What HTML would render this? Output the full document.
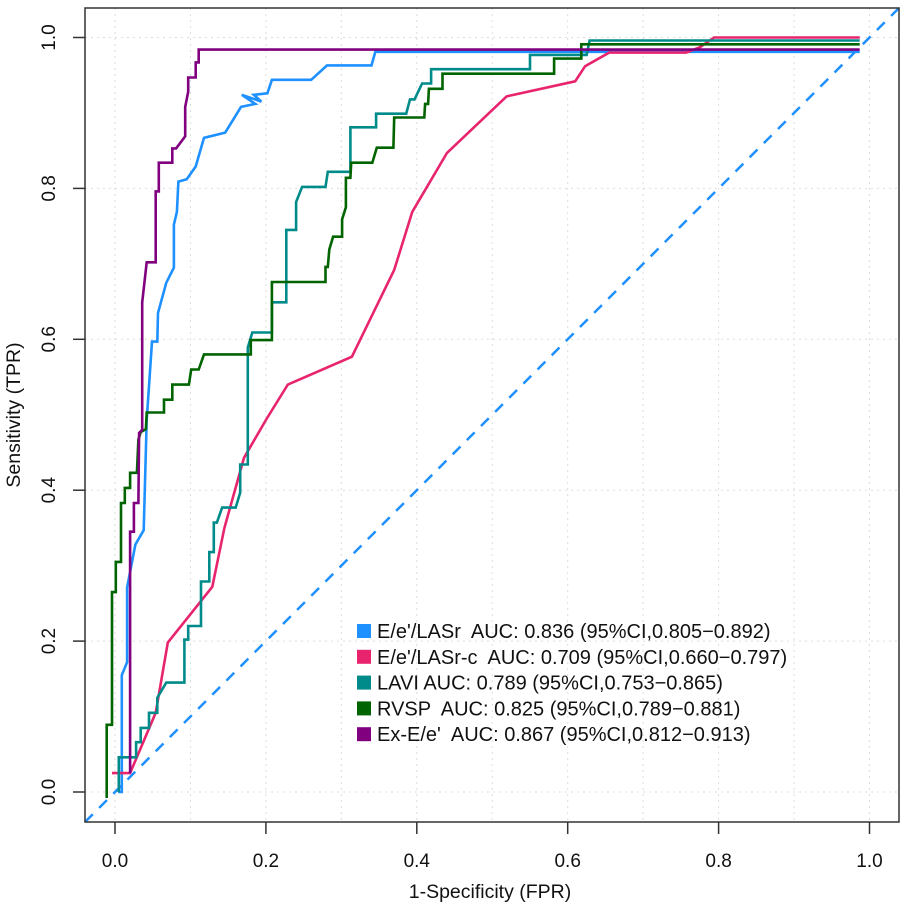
<!DOCTYPE html>
<html><head><meta charset="utf-8"><style>
html,body{margin:0;padding:0;background:#fff;}
svg{display:block;font-family:"Liberation Sans",Arial,sans-serif;}
</style></head><body>
<svg id="chart" width="905" height="914" viewBox="0 0 905 914" xmlns="http://www.w3.org/2000/svg">
<g id="grid"></g>
<line x1="85" y1="822" x2="899" y2="8" stroke="#1E90FF" stroke-width="2.5" stroke-dasharray="11,9"/>
<g id="curves"></g>
<rect x="85" y="8" width="814" height="814" fill="none" stroke="#333" stroke-width="1.5"/>
<g id="axes"></g>
<text x="490" y="898" font-size="19.5" text-anchor="middle" fill="#111">1-Specificity (FPR)</text>
<text transform="translate(20,415) rotate(-90)" font-size="19.5" text-anchor="middle" fill="#111">Sensitivity (TPR)</text>
<g id="legend"></g>
</svg>
<script>
const xTicks = [0.0, 0.2, 0.4, 0.6, 0.8, 1.0];
const yTicks = [0.0, 0.2, 0.4, 0.6, 0.8, 1.0];
const xGrid = [0,0.1,0.2,0.3,0.4,0.5,0.6,0.7,0.8,0.9,1.0];
const seriesNames = ["E/e'/LASr  AUC: 0.836 (95%CI,0.805−0.892)","E/e'/LASr-c  AUC: 0.709 (95%CI,0.660−0.797)","LAVI AUC: 0.789 (95%CI,0.753−0.865)","RVSP  AUC: 0.825 (95%CI,0.789−0.881)","Ex-E/e'  AUC: 0.867 (95%CI,0.812−0.913)"];
const seriesColors = ["#1E90FF","#E8246E","#008B8B","#006400","#800080"];
const fprLASr = [0.004,0.009,0.009,0.016,0.016,0.027,0.038,0.042,0.049,0.056,0.057,0.068,0.078,0.078,0.082,0.084,0.095,0.107,0.118,0.146,0.167,0.186,0.168,0.194,0.184,0.202,0.208,0.260,0.281,0.340,0.345,0.987];
const tprLASr = [0,0,0.155,0.172,0.271,0.328,0.347,0.493,0.597,0.597,0.635,0.675,0.695,0.752,0.769,0.809,0.812,0.829,0.867,0.874,0.908,0.912,0.924,0.915,0.924,0.926,0.944,0.944,0.963,0.963,0.981,0.981];
const fprLASrc = [-0.004,0.020,0.054,0.070,0.129,0.145,0.171,0.200,0.229,0.314,0.370,0.394,0.440,0.519,0.610,0.623,0.655,0.757,0.775,0.794,0.987];
const tprLASrc = [0.025,0.025,0.105,0.198,0.272,0.350,0.443,0.493,0.540,0.577,0.692,0.769,0.847,0.922,0.942,0.962,0.980,0.980,0.987,1.0,1.0];
const fprLAVI = [0.005,0.005,0.005,0.028,0.028,0.034,0.034,0.045,0.045,0.056,0.056,0.068,0.092,0.092,0.097,0.097,0.114,0.114,0.125,0.125,0.131,0.131,0.135,0.142,0.160,0.166,0.166,0.176,0.176,0.182,0.208,0.208,0.227,0.227,0.240,0.240,0.248,0.279,0.282,0.312,0.312,0.346,0.346,0.386,0.391,0.397,0.407,0.419,0.419,0.550,0.550,0.625,0.629,0.987];
const tprLAVI = [0,0.007,0.046,0.046,0.066,0.066,0.085,0.085,0.105,0.105,0.125,0.145,0.145,0.202,0.202,0.220,0.220,0.279,0.279,0.318,0.318,0.357,0.357,0.377,0.377,0.397,0.434,0.434,0.589,0.609,0.609,0.649,0.649,0.745,0.745,0.782,0.802,0.802,0.822,0.822,0.881,0.881,0.899,0.899,0.918,0.918,0.939,0.939,0.958,0.958,0.977,0.977,0.996,0.996];
const fprRVSP = [-0.011,-0.011,-0.004,-0.004,0.001,0.001,0.008,0.008,0.013,0.013,0.020,0.020,0.029,0.031,0.034,0.041,0.042,0.065,0.065,0.076,0.076,0.098,0.101,0.111,0.118,0.180,0.180,0.208,0.208,0.279,0.279,0.282,0.284,0.289,0.301,0.301,0.306,0.306,0.312,0.313,0.341,0.347,0.369,0.370,0.410,0.411,0.415,0.416,0.434,0.434,0.582,0.582,0.618,0.618,0.987];
const tprRVSP = [-0.008,0.089,0.089,0.265,0.265,0.305,0.305,0.383,0.383,0.403,0.403,0.423,0.423,0.467,0.477,0.481,0.503,0.503,0.520,0.520,0.540,0.540,0.560,0.560,0.580,0.580,0.599,0.599,0.676,0.676,0.696,0.696,0.719,0.736,0.736,0.759,0.775,0.814,0.814,0.834,0.834,0.854,0.854,0.894,0.894,0.912,0.912,0.932,0.932,0.952,0.952,0.972,0.972,0.991,0.991];
const fprExE = [0.020,0.020,0.025,0.025,0.031,0.032,0.036,0.036,0.042,0.054,0.054,0.058,0.058,0.076,0.076,0.081,0.093,0.093,0.097,0.097,0.107,0.107,0.111,0.111,0.987];
const tprExE = [0.025,0.345,0.345,0.383,0.383,0.476,0.480,0.649,0.702,0.702,0.796,0.796,0.834,0.834,0.853,0.853,0.869,0.908,0.928,0.947,0.947,0.967,0.967,0.984,0.984];
const fprSeries = [fprLASr, fprLASrc, fprLAVI, fprRVSP, fprExE];
const tprSeries = [tprLASr, tprLASrc, tprLAVI, tprRVSP, tprExE];
const seriesKeys = ["e-e-lasr","e-e-lasr-c","lavi","rvsp","ex-e-e"];

const NS = "http://www.w3.org/2000/svg";
const X0 = 115, Y0 = 792, S = 754.5;
function sx(v){ return X0 + v*S; }
function sy(v){ return Y0 - v*S; }
function mk(tag, attrs, parent){ const e=document.createElementNS(NS,tag); for(const k in attrs) e.setAttribute(k,attrs[k]); parent.appendChild(e); return e; }

const grid = document.getElementById('grid');
xGrid.forEach(v=>{
  const l = mk('line',{x1:sx(v),x2:sx(v),y1:8,y2:822,stroke:'#ddd','stroke-width':1,'stroke-dasharray':'2,4'},grid);
  
  
});
yTicks.forEach(v=>{
  const l = mk('line',{x1:85,x2:899,y1:sy(v),y2:sy(v),stroke:'#ddd','stroke-width':1,'stroke-dasharray':'2,4'},grid);
  
  
});

const curves = document.getElementById('curves');
fprSeries.forEach((xs,i)=>{
  const ys = tprSeries[i];
  const pts = xs.map((x,j)=>sx(x).toFixed(1)+','+sy(ys[j]).toFixed(1)).join(' ');
  const p = mk('polyline',{points:pts,fill:'none',stroke:seriesColors[i],'stroke-width':2.6,'stroke-linejoin':'miter'},curves);
  
  
});

const axes = document.getElementById('axes');
xTicks.forEach(v=>{
  const t = mk('line',{x1:sx(v),x2:sx(v),y1:822,y2:834,stroke:'#333','stroke-width':1.5},axes);
  
  
  const tx = mk('text',{x:sx(v),y:867,'font-size':19,'text-anchor':'middle',fill:'#111'},axes);
  tx.textContent = v.toFixed(1);
  
  
});
yTicks.forEach(v=>{
  const t = mk('line',{x1:73,x2:85,y1:sy(v),y2:sy(v),stroke:'#333','stroke-width':1.5},axes);
  
  
  const tx = mk('text',{transform:'translate(55,'+sy(v)+') rotate(-90)','font-size':19,'text-anchor':'middle',fill:'#111'},axes);
  tx.textContent = v.toFixed(1);
  
  
});

const legend = document.getElementById('legend');
seriesNames.forEach((n,i)=>{
  const y = 631 + i*25.8;
  const r = mk('rect',{x:357,y:y-7,width:14,height:14,fill:seriesColors[i]},legend);
  
  
  const t = mk('text',{x:377,y:y+7,'font-size':20,fill:'#111'},legend);
  t.setAttribute('style','white-space:pre');
  t.textContent = n;
  
  
});
</script>
</body></html>
